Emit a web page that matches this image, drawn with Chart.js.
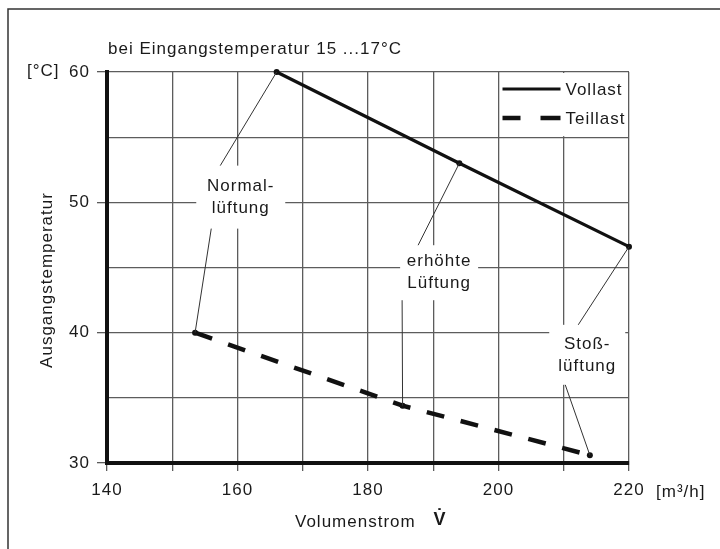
<!DOCTYPE html>
<html lang="de">
<head>
<meta charset="UTF-8">
<title>Ausgangstemperatur</title>
<script src="https://cdn.jsdelivr.net/npm/chart.js@4.4.0/dist/chart.umd.min.js"></script>
<style>
  body {margin: 0; background: #fff}
</style>
</head>
<body>
<canvas id="chart" width="720" height="549"></canvas>
<script>
// values
const vollastX = [166, 194, 220];
const vollastY = [60, 53, 46.6];
const teillastX = [153.5, 185.3, 214];
const teillastY = [40, 34.4, 30.6];
const xTicks = [140, 160, 180, 200, 220];
const yTicks = [30, 40, 50, 60];
const notes = ['Normal-\nlüftung', 'erhöhte\nLüftung', 'Stoß-\nlüftung'];
const noteX = [160.5, 190.9, 213.6];
const noteY = [50.4, 44.6, 38.3];

const FONT = '"Liberation Sans", Arial, sans-serif';
const INK = '#1a1a1a';
const GRID = '#5c5c5c';

// label boxes (pixels): half width, half height, leader offsets
const boxW = [44.5, 39, 38];
const boxH = [31.5, 27.5, 30];
const topDx = [-20.5, -21, -9];
const botDx = [-29.5, -37, -22];

const notesPlugin = {
  id: 'notes',
  beforeDraw(chart) {
    const c = chart.ctx;
    c.letterSpacing = '1px';
    c.save();
    c.fillStyle = '#fff';
    c.fillRect(0, 0, chart.width, chart.height);
    c.strokeStyle = '#333';
    c.lineWidth = 1.5;
    c.beginPath();
    c.moveTo(8, chart.height);
    c.lineTo(8, 9);
    c.lineTo(chart.width, 9);
    c.stroke();
    c.restore();
  },
  beforeDatasetsDraw(chart) {
    const c = chart.ctx, a = chart.chartArea;
    const x = chart.scales.x, y = chart.scales.y;
    c.save();
    c.fillStyle = '#fff';
    // legend area
    c.fillRect(x.getPixelForValue(200) + 2, a.top + 1, a.right - x.getPixelForValue(200) - 3, y.getPixelForValue(55) - a.top - 2);
    notes.forEach((t, i) => {
      const cx = x.getPixelForValue(noteX[i]), cy = y.getPixelForValue(noteY[i]);
      c.fillRect(cx - boxW[i], cy - boxH[i], boxW[i] * 2, boxH[i] * 2);
    });
    c.restore();
  },
  afterDatasetsDraw(chart) {
    const c = chart.ctx, a = chart.chartArea;
    const x = chart.scales.x, y = chart.scales.y;
    c.save();
    c.fillStyle = INK;
    c.strokeStyle = '#333';
    c.font = '17px ' + FONT;
    c.textAlign = 'center';
    c.textBaseline = 'middle';
    notes.forEach((t, i) => {
      const cx = x.getPixelForValue(noteX[i]), cy = y.getPixelForValue(noteY[i]);
      const lines = t.split('\n');
      c.fillText(lines[0], cx, cy - 11);
      c.fillText(lines[1], cx, cy + 11);
      c.lineWidth = 1;
      c.beginPath();
      c.moveTo(x.getPixelForValue(vollastX[i]), y.getPixelForValue(vollastY[i]));
      c.lineTo(cx + topDx[i], cy - boxH[i]);
      c.moveTo(cx + botDx[i], cy + boxH[i]);
      c.lineTo(x.getPixelForValue(teillastX[i]), y.getPixelForValue(teillastY[i]));
      c.stroke();
    });

    // legend
    const lx = x.getPixelForValue(200) + 4;
    c.strokeStyle = '#111';
    c.lineWidth = 3.2;
    c.beginPath();
    c.moveTo(lx, a.top + 17);
    c.lineTo(lx + 58, a.top + 17);
    c.stroke();
    c.lineWidth = 4.5;
    c.beginPath();
    c.moveTo(lx, a.top + 46);
    c.lineTo(lx + 18, a.top + 46);
    c.moveTo(lx + 38, a.top + 46);
    c.lineTo(lx + 58, a.top + 46);
    c.stroke();
    c.textAlign = 'left';
    c.fillText('Vollast', lx + 63, a.top + 18);
    c.fillText('Teillast', lx + 63, a.top + 47);

    // titles
    c.fillText('bei Eingangstemperatur 15 ...17°C', a.left + 1, 49);
    c.fillText('[°C]', 27, a.top - 1);
    c.fillText('[m³/h]', 656, a.bottom + 29);
    c.fillText('Volumenstrom', 295, 522);
    c.font = 'bold 18px ' + FONT;
    c.textAlign = 'center';
    c.fillText('V\u0307', 440, 520);
    c.font = '17px ' + FONT;
    c.translate(47, 280);
    c.rotate(-Math.PI / 2);
    c.fillText('Ausgangstemperatur', 0, 0);
    c.restore();
  }
};

const pts = (xs, ys) => xs.map((v, i) => ({x: v, y: ys[i]}));

new Chart(document.getElementById('chart'), {
  type: 'scatter',
  data: {
    datasets: [
      {
        label: 'Vollast',
        data: pts(vollastX, vollastY),
        showLine: true,
        borderColor: '#111',
        borderWidth: 3.2,
        pointRadius: 3,
        pointBackgroundColor: '#111',
        pointBorderWidth: 0,
        clip: false
      },
      {
        label: 'Teillast',
        data: pts(teillastX, teillastY),
        showLine: true,
        borderColor: '#111',
        borderWidth: 4.5,
        borderDash: [18, 17],
        pointRadius: 3,
        pointBackgroundColor: '#111',
        pointBorderWidth: 0,
        clip: false
      }
    ]
  },
  options: {
    responsive: false,
    animation: false,
    layout: {padding: {left: 0, top: 72, right: 91, bottom: 0}},
    plugins: {legend: {display: false}, tooltip: {enabled: false}},
    scales: {
      x: {
        type: 'linear',
        min: 140,
        max: 220,
        afterFit: s => { s.height = 86; },
        ticks: {
          stepSize: 10,
          autoSkip: false,
          maxRotation: 0,
          padding: 9,
          color: INK,
          font: {family: FONT, size: 17},
          callback: v => xTicks.includes(v) ? v : ''
        },
        grid: {color: GRID, lineWidth: 1.3, tickLength: 8, tickColor: GRID},
        border: {color: '#111', width: 4}
      },
      y: {
        type: 'linear',
        min: 30,
        max: 60,
        afterFit: s => { s.width = 107; },
        ticks: {
          stepSize: 5,
          autoSkip: false,
          padding: 7,
          color: INK,
          font: {family: FONT, size: 17},
          callback: v => yTicks.includes(v) ? v : ''
        },
        grid: {
          color: GRID,
          lineWidth: 1.3,
          tickLength: 10,
          tickColor: c => yTicks.includes(c.tick.value) ? GRID : 'rgba(0,0,0,0)'
        },
        border: {color: '#111', width: 4}
      }
    }
  },
  plugins: [notesPlugin]
});
</script>
</body>
</html>
